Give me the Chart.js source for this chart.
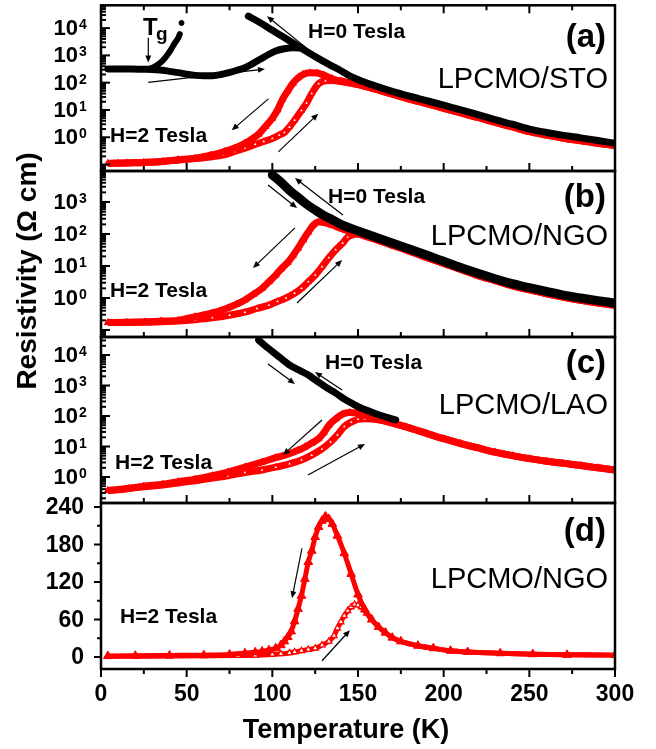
<!DOCTYPE html>
<html>
<head>
<meta charset="utf-8">
<script src="https://cdn.jsdelivr.net/npm/chart.js@4.4.1/dist/chart.umd.min.js"></script>
<style>
  html, body { margin: 0; padding: 0; background: #fff; }
  #wrap { position: relative; width: 656px; height: 749px; background: #fff; }
  #wrap canvas { position: absolute; left: 0; top: 0; }
</style>
</head>
<body>
<div id="wrap">
  <canvas id="pa" width="656" height="749"></canvas>
  <canvas id="pb" width="656" height="749"></canvas>
  <canvas id="pc" width="656" height="749"></canvas>
  <canvas id="pd" width="656" height="749"></canvas>
</div>
<script>
// ---- data: temperature (K) and resistivity (Ohm cm) ----

// (a) LPCMO/STO
const tA_h0Cool = [86, 92, 100, 106, 113, 120, 126, 133, 140, 146, 152, 160, 170, 180, 190, 200, 210, 220, 230, 240, 250, 260, 270, 280, 290, 300];
const rA_h0Cool = [27500, 17000, 8300, 4900, 2600, 1380, 830, 470, 275, 165, 115, 76, 48, 32, 22, 15, 10, 6.8, 4.4, 3.0, 2.0, 1.5, 1.17, 0.95, 0.76, 0.6];
const tA_h0Warm = [4, 10, 16, 22, 27, 32, 36, 40, 45, 50, 55, 60, 65, 70, 74, 79, 84, 89, 94, 98, 102, 107, 112, 117];
const rA_h0Warm = [320, 318, 315, 312, 310, 300, 285, 260, 234, 205, 185, 178, 180, 200, 229, 280, 355, 520, 790, 1100, 1450, 1750, 1900, 1850];
const tA_tg = [27, 31, 35, 38, 41, 43, 45, 46];
const rA_tg = [310, 380, 560, 900, 1700, 2800, 4300, 6000];
const tA_dot = [47];
const rA_dot = [15500];
const tA_h2Cool = [4, 10, 15, 25, 36, 45, 55, 64, 72, 78, 84, 88, 92, 96, 100, 103, 106, 109, 112, 115, 118, 122, 126, 130, 135, 140, 150, 160, 170, 180, 190, 200, 210, 220, 230, 240, 250, 260, 270, 280, 290, 300];
const rA_h2Cool = [0.11, 0.112, 0.115, 0.12, 0.13, 0.15, 0.17, 0.22, 0.3, 0.4, 0.6, 0.85, 1.3, 2.5, 5, 10, 25, 50, 95, 150, 200, 230, 225, 190, 140, 115, 85, 58, 38, 25, 17, 11.5, 7.8, 5.3, 3.5, 2.4, 1.6, 1.2, 0.92, 0.75, 0.6, 0.5];
const tA_h2Warm = [4, 15, 25, 36, 45, 55, 64, 71, 78, 84, 90, 95, 100, 104, 107, 110, 113, 117, 120, 123, 127, 131, 135, 140, 150, 160, 170, 180, 190, 200, 210, 220, 230, 240, 250, 260, 270, 280, 290, 300];
const rA_h2Warm = [0.11, 0.115, 0.12, 0.13, 0.145, 0.165, 0.19, 0.22, 0.3, 0.4, 0.55, 0.7, 0.9, 1.2, 1.5, 2.4, 4.2, 9.5, 18, 40, 92, 117, 120, 110, 85, 58, 38, 25, 17, 11.5, 7.8, 5.3, 3.5, 2.4, 1.6, 1.2, 0.92, 0.75, 0.6, 0.5];

// (b) LPCMO/NGO
const tB_h0 = [100, 105, 110, 115, 120, 125, 130, 135, 140, 150, 160, 170, 180, 190, 200, 210, 220, 230, 240, 250, 260, 270, 280, 290, 300];
const rB_h0 = [7000, 4200, 2300, 1400, 850, 560, 380, 280, 200, 125, 80, 52, 34, 22, 14, 8.9, 5.9, 4.0, 2.8, 2.1, 1.6, 1.23, 1.0, 0.83, 0.7];
const tB_h2Cool = [4, 15, 26, 35, 45, 55, 65, 74, 79, 84, 89, 94, 98, 102, 105, 109, 112, 115, 118, 121, 124, 127, 131, 135, 140, 150, 160, 170, 180, 190, 200, 210, 220, 230, 240, 250, 260, 270, 280, 290, 300];
const rB_h2Cool = [0.17, 0.175, 0.18, 0.19, 0.2, 0.26, 0.34, 0.49, 0.63, 0.87, 1.3, 2.0, 3.2, 5.2, 8, 13, 21, 36, 65, 115, 190, 236, 225, 190, 150, 100, 68, 44, 29, 18.5, 12, 7.8, 5.0, 3.5, 2.4, 1.8, 1.35, 1.05, 0.85, 0.7, 0.6];
const tB_h2Warm = [4, 15, 26, 35, 45, 55, 65, 75, 84, 91, 98, 103, 108, 113, 117, 121, 125, 129, 133, 137, 141, 144, 147, 150, 155, 160, 170, 180, 190, 200, 210, 220, 230, 240, 250, 260, 270, 280, 290, 300];
const rB_h2Warm = [0.17, 0.17, 0.175, 0.18, 0.19, 0.21, 0.24, 0.29, 0.36, 0.47, 0.6, 0.78, 1.0, 1.4, 2.0, 3.2, 5.2, 9.5, 18, 32, 52, 80, 95, 100, 88, 70, 45, 29, 18.5, 12, 7.8, 5.0, 3.5, 2.4, 1.8, 1.35, 1.05, 0.85, 0.7, 0.6];

// (c) LPCMO/LAO
const tC_h0 = [92, 95, 100, 106, 110, 115, 121, 126, 131, 137, 142, 147, 152, 157, 162, 167, 172];
const rC_h0 = [31000, 22000, 13000, 7000, 4700, 3300, 2200, 1400, 900, 560, 360, 250, 180, 140, 110, 90, 75];
const tC_h2Cool = [4, 10, 16, 25, 36, 45, 55, 65, 74, 84, 94, 102, 109, 115, 119, 123, 127, 130, 133, 137, 141, 145, 149, 153, 158, 165, 178, 190, 200, 210, 220, 230, 240, 250, 260, 270, 280, 290, 300];
const rC_h2Cool = [0.36, 0.38, 0.42, 0.5, 0.58, 0.7, 0.85, 1.1, 1.45, 2.1, 3.1, 4.3, 5.6, 7.5, 9.6, 13, 18, 28, 50, 80, 115, 130, 125, 110, 90, 70, 44, 27, 18, 12.5, 9, 6.5, 5.0, 4.0, 3.3, 2.8, 2.4, 2.0, 1.7];
const tC_h2Warm = [4, 16, 25, 36, 45, 55, 65, 74, 84, 94, 102, 110, 117, 123, 129, 134, 138, 142, 146, 150, 154, 158, 165, 178, 190, 200, 210, 220, 230, 240, 250, 260, 270, 280, 290, 300];
const rC_h2Warm = [0.36, 0.42, 0.48, 0.55, 0.64, 0.75, 0.92, 1.1, 1.4, 1.7, 2.1, 2.7, 3.6, 5.2, 8.3, 14, 24, 45, 63, 78, 82, 80, 70, 44, 27, 18, 12.5, 9, 6.5, 5.0, 4.0, 3.3, 2.8, 2.4, 2.0, 1.7];

// (d) LPCMO/NGO, linear scale
const tD_h2Cool = [4, 20, 40, 60, 75, 84, 90, 94, 98, 102, 105, 107, 109, 111, 113, 115, 117, 119, 121, 123, 125, 127, 129, 131, 133, 135, 138, 142, 146, 150, 154, 158, 162, 166, 170, 175, 185, 194, 204, 214, 233, 252, 272, 300];
const rD_h2Cool = [1.5, 2, 2.5, 3, 4, 6, 7.5, 9, 11, 14, 19, 25, 32, 41, 57, 77, 98, 125, 152, 170, 192, 208, 218, 225, 221, 213, 194, 166, 133, 100, 76, 60, 48, 39, 31, 25, 18, 14, 10, 8, 6, 4.5, 3.5, 3];
const tD_h2Warm = [4, 20, 40, 60, 80, 90, 100, 105, 110, 113, 117, 121, 125, 129, 133, 136, 138, 140, 142, 144, 146, 148, 150, 152, 155, 158, 162, 166, 170, 175, 185, 194, 204, 214, 233, 252, 272, 300];
const rD_h2Warm = [1, 1.2, 1.5, 1.8, 2.2, 2.6, 4, 5, 6.5, 8, 10, 12, 14, 19, 25, 34, 46, 56, 66, 74, 80, 84, 83, 80, 70, 60, 48, 39, 31, 25, 18, 14, 10, 8, 6, 4.5, 3.5, 3];

// tick labels
const xTickLabels = [0, 50, 100, 150, 200, 250, 300];
const expLabelsA = [0, 1, 2, 3, 4];
const expLabelsB = [0, 1, 2, 3];
const expLabelsC = [0, 1, 2, 3, 4];
const linLabelsD = [0, 60, 120, 180, 240];

// guide arrows [T tail, rho tail, T head, rho head]
const arrowsA = [[122.0, 1460, 96.9, 27300], [27.6, 103, 95.7, 315], [97.7, 25.5, 76.3, 1.8], [103.5, 0.29, 126.8, 7.3], [27.6, 4440, 27.6, 547]];
const arrowsB = [[97.5, 3390, 114.4, 646], [141.2, 390, 113.2, 5620], [113.2, 155, 88.7, 8.66], [114.4, 0.70, 140.7, 15.4]];
const arrowsC = [[97.5, 5050, 113.2, 1120], [140.7, 710, 124.9, 2770], [129.0, 74, 106.2, 5.3], [120.8, 1.16, 154.1, 12.1]];
const arrowsD = [[117.3, 174, 111.5, 94], [129.0, -6, 145.3, 43]];

// ---- layout / style ----
const FONT = '"Liberation Sans", Arial, Helvetica, sans-serif';
const CW = 656, CH = 749;
const PLOT_LEFT = 101, PLOT_RIGHT = 615;
const RED = '#ff0000';

function pts(t, r) { return t.map((x, i) => ({ x: x, y: r[i] })); }

function blackLine(t, r, w) {
  return { data: pts(t, r), showLine: true, borderColor: '#000', borderWidth: w,
    pointRadius: 0, cubicInterpolationMode: 'monotone', borderCapStyle: 'round' };
}
function redFilled(t, r, w, rad) {
  return { data: pts(t, r), showLine: true, borderColor: RED, borderWidth: w,
    pointStyle: 'triangle', pointRadius: rad, pointBackgroundColor: RED,
    pointBorderColor: RED, pointBorderWidth: 1, cubicInterpolationMode: 'monotone' };
}
function redOpen(t, r, w, rad) {
  return { data: pts(t, r), showLine: true, borderColor: RED, borderWidth: w,
    pointStyle: 'triangle', pointRadius: rad, pointBackgroundColor: '#fff',
    pointBorderColor: RED, pointBorderWidth: 1.3, cubicInterpolationMode: 'monotone' };
}

function drawArrow(ctx, x1, y1, x2, y2) {
  const a = Math.atan2(y2 - y1, x2 - x1);
  const hl = 7, hw = 3;
  ctx.lineWidth = 1.2;
  ctx.beginPath();
  ctx.moveTo(x1, y1);
  ctx.lineTo(x2 - hl * 0.7 * Math.cos(a), y2 - hl * 0.7 * Math.sin(a));
  ctx.stroke();
  ctx.beginPath();
  ctx.moveTo(x2, y2);
  ctx.lineTo(x2 - hl * Math.cos(a) + hw * Math.sin(a), y2 - hl * Math.sin(a) - hw * Math.cos(a));
  ctx.lineTo(x2 - hl * Math.cos(a) - hw * Math.sin(a), y2 - hl * Math.sin(a) + hw * Math.cos(a));
  ctx.closePath();
  ctx.fill();
}

function panelPlugin(p) {
  return {
    id: 'panelDeco',
    afterDraw(chart) {
      const ctx = chart.ctx, ca = chart.chartArea;
      const xs = chart.scales.x, ys = chart.scales.y;
      ctx.save();
      ctx.strokeStyle = '#000';
      ctx.fillStyle = '#000';
      const seg = (x1, y1, x2, y2) => { ctx.beginPath(); ctx.moveTo(x1, y1); ctx.lineTo(x2, y2); ctx.stroke(); };
      ctx.lineWidth = 2;

      // x ticks
      for (let t = 0; t <= 300; t += 25) {
        const px = xs.getPixelForValue(t);
        const len = t % 50 === 0 ? 8 : 5;
        if (p.inward) seg(px, ca.bottom, px, ca.bottom - len);
        else seg(px, ca.bottom, px, ca.bottom + len);
        if (p.topTicks) seg(px, ca.top, px, ca.top + len);
      }

      // y ticks and labels
      if (p.log) {
        const lo = Math.floor(Math.log10(ys.min)), hi = Math.ceil(Math.log10(ys.max));
        for (let n = lo; n <= hi; n++) {
          for (let m = 1; m <= 9; m++) {
            const v = m * Math.pow(10, n);
            if (v < ys.min || v > ys.max) continue;
            const py = ys.getPixelForValue(v);
            seg(ca.left, py, ca.left + (m === 1 ? 9 : 5), py);
          }
        }
        p.yLabels.forEach(n => {
          const py = ys.getPixelForValue(Math.pow(10, n));
          ctx.font = 'bold 22px ' + FONT;
          ctx.textAlign = 'right';
          ctx.textBaseline = 'middle';
          ctx.fillText('10', ca.left - 23, py + 1);
          ctx.font = 'bold 14px ' + FONT;
          ctx.textAlign = 'left';
          ctx.textBaseline = 'alphabetic';
          ctx.fillText(String(n), ca.left - 22, py + 1);
        });
      } else {
        for (let v = Math.ceil(ys.min / 30) * 30; v <= ys.max; v += 30) {
          const py = ys.getPixelForValue(v);
          seg(ca.left, py, ca.left - (v % 60 === 0 ? 7 : 4), py);
        }
        ctx.font = 'bold 23px ' + FONT;
        ctx.textAlign = 'right';
        ctx.textBaseline = 'middle';
        p.yLabels.forEach(v => ctx.fillText(String(v), ca.left - 17, ys.getPixelForValue(v) + 1));
      }

      // frame
      ctx.lineWidth = 2.5;
      ctx.strokeRect(ca.left, ca.top, ca.right - ca.left, ca.bottom - ca.top);

      // x tick labels + axis titles
      if (p.xLabels) {
        ctx.font = 'bold 23px ' + FONT;
        ctx.textAlign = 'center';
        ctx.textBaseline = 'middle';
        p.xLabels.forEach(t => ctx.fillText(String(t), xs.getPixelForValue(t), ca.bottom + 26));
        ctx.font = 'bold 27px ' + FONT;
        ctx.textBaseline = 'alphabetic';
        ctx.fillText('Temperature (K)', 346, 738);
        ctx.save();
        ctx.translate(28, 271);
        ctx.rotate(-Math.PI / 2);
        ctx.font = 'bold 28px ' + FONT;
        ctx.textAlign = 'center';
        ctx.textBaseline = 'middle';
        ctx.fillText('Resistivity (\u03A9 cm)', 0, 0);
        ctx.restore();
      }

      // panel tag and sample name
      ctx.textAlign = 'right';
      ctx.textBaseline = 'middle';
      ctx.font = 'bold 33px ' + FONT;
      ctx.fillText(p.tag, 606, p.tagY);
      ctx.textBaseline = 'alphabetic';
      ctx.font = '29px ' + FONT;
      ctx.fillText(p.name, 608, p.nameY);

      // field notes
      ctx.textAlign = 'left';
      p.notes.forEach(nt => {
        ctx.font = nt.font || ('bold 21px ' + FONT);
        ctx.fillText(nt.s, nt.x, nt.y);
      });

      // arrows
      p.arrows.forEach(a => drawArrow(ctx,
        xs.getPixelForValue(a[0]), ys.getPixelForValue(a[1]),
        xs.getPixelForValue(a[2]), ys.getPixelForValue(a[3])));

      ctx.restore();
    }
  };
}

function makePanel(id, p, datasets) {
  return new Chart(document.getElementById(id), {
    type: 'scatter',
    data: { datasets: datasets },
    options: {
      responsive: false,
      animation: false,
      devicePixelRatio: 1,
      events: [],
      layout: { padding: { left: PLOT_LEFT, right: CW - PLOT_RIGHT, top: p.top, bottom: CH - p.bottom } },
      plugins: { legend: { display: false }, tooltip: { enabled: false } },
      scales: {
        x: { type: 'linear', min: 0, max: 300, display: false },
        y: { type: p.log ? 'logarithmic' : 'linear', min: p.yMin, max: p.yMax, display: false }
      }
    },
    plugins: [panelPlugin(p)]
  });
}

makePanel('pa', {
  top: 4, bottom: 171, log: true, yMin: 0.058, yMax: 68500, yLabels: expLabelsA,
  inward: true, topTicks: true, tag: '(a)', tagY: 38, name: 'LPCMO/STO', nameY: 88,
  notes: [
    { s: 'H=0 Tesla', x: 308, y: 38 },
    { s: 'H=2 Tesla', x: 110, y: 142 },
    { s: 'T', x: 143, y: 35, font: 'bold 24px ' + FONT },
    { s: 'g', x: 156, y: 40, font: 'bold 19px ' + FONT }
  ],
  arrows: arrowsA
}, [
  blackLine(tA_h0Cool, rA_h0Cool, 7),
  blackLine(tA_h0Warm, rA_h0Warm, 7),
  blackLine(tA_tg, rA_tg, 6),
  { data: pts(tA_dot, rA_dot), showLine: false, pointRadius: 2.5, pointBackgroundColor: '#000', pointBorderColor: '#000' },
  redFilled(tA_h2Cool, rA_h2Cool, 7, 4),
  redOpen(tA_h2Warm, rA_h2Warm, 7, 2.8)
]);

makePanel('pb', {
  top: 171, bottom: 337, log: true, yMin: 0.0604, yMax: 9310, yLabels: expLabelsB,
  inward: true, topTicks: false, tag: '(b)', tagY: 198, name: 'LPCMO/NGO', nameY: 245,
  notes: [
    { s: 'H=0 Tesla', x: 328, y: 203 },
    { s: 'H=2 Tesla', x: 110, y: 297 }
  ],
  arrows: arrowsB
}, [
  blackLine(tB_h0, rB_h0, 9),
  redFilled(tB_h2Cool, rB_h2Cool, 7, 4),
  redOpen(tB_h2Warm, rB_h2Warm, 7, 2.8)
]);

makePanel('pc', {
  top: 337, bottom: 503, log: true, yMin: 0.1405, yMax: 38900, yLabels: expLabelsC,
  inward: true, topTicks: false, tag: '(c)', tagY: 364, name: 'LPCMO/LAO', nameY: 414,
  notes: [
    { s: 'H=0 Tesla', x: 325, y: 369 },
    { s: 'H=2 Tesla', x: 115, y: 469 }
  ],
  arrows: arrowsC
}, [
  blackLine(tC_h0, rC_h0, 7),
  redFilled(tC_h2Cool, rC_h2Cool, 7, 4),
  redOpen(tC_h2Warm, rC_h2Warm, 7, 2.8)
]);

makePanel('pd', {
  top: 503, bottom: 669, log: false, yMin: -19.2, yMax: 246.4, yLabels: linLabelsD,
  inward: false, topTicks: false, xLabels: xTickLabels, tag: '(d)', tagY: 532, name: 'LPCMO/NGO', nameY: 588,
  notes: [
    { s: 'H=2 Tesla', x: 120, y: 623 }
  ],
  arrows: arrowsD
}, [
  redFilled(tD_h2Cool, rD_h2Cool, 5, 5),
  redOpen(tD_h2Warm, rD_h2Warm, 5, 3.5)
]);
</script>
</body>
</html>
